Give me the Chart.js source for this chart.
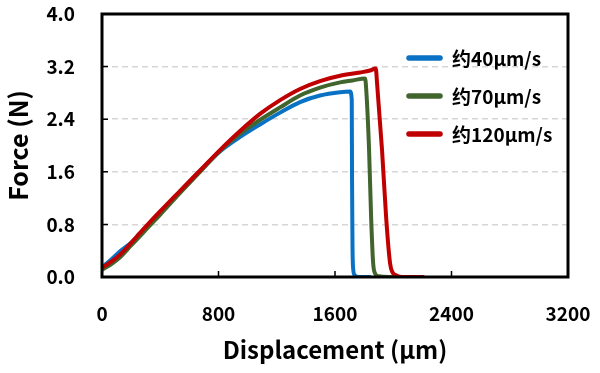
<!DOCTYPE html>
<html>
<head>
<meta charset="utf-8">
<script src="https://cdn.jsdelivr.net/npm/chart.js@4.4.1/dist/chart.umd.min.js"></script>
<style>
html,body{margin:0;padding:0;background:#fff;}
#wrap{width:600px;height:373px;position:relative;}
</style>
</head>
<body>
<div id="wrap"><canvas id="c" width="600" height="373"></canvas></div>
<script>
// ---- data ----
const seriesLabels = ['约40µm/s', '约70µm/s', '约120µm/s'];
const seriesColors = ['#0A72C4', '#41652C', '#C00000'];

const blueX = [0, 60, 124, 200, 261, 302, 400, 536, 673, 810, 948, 1085, 1223, 1360, 1497, 1635, 1703, 1715, 1717, 1720, 1725, 1735, 1760, 1840];
const blueY = [0.15, 0.26, 0.39, 0.52, 0.64, 0.74, 0.97, 1.29, 1.61, 1.91, 2.13, 2.32, 2.50, 2.66, 2.76, 2.81, 2.82, 2.70, 1.50, 0.50, 0.12, 0.03, 0.0, 0.0];

const greenX = [0, 60, 124, 200, 261, 302, 400, 536, 673, 810, 948, 1085, 1223, 1360, 1497, 1635, 1720, 1806, 1813, 1834, 1848, 1862, 1876, 1900, 1990];
const greenY = [0.11, 0.19, 0.30, 0.48, 0.62, 0.72, 0.95, 1.28, 1.60, 1.92, 2.18, 2.39, 2.58, 2.76, 2.88, 2.96, 2.99, 3.02, 2.90, 1.93, 0.91, 0.21, 0.05, 0.01, 0.0];

const redX = [0, 60, 124, 200, 261, 302, 400, 536, 673, 810, 948, 1085, 1223, 1360, 1497, 1635, 1772, 1840, 1880, 1889, 1923, 1951, 1978, 1995, 2026, 2060, 2205];
const redY = [0.14, 0.23, 0.34, 0.52, 0.67, 0.77, 1.00, 1.31, 1.62, 1.93, 2.22, 2.48, 2.69, 2.86, 2.98, 3.06, 3.11, 3.14, 3.17, 2.94, 1.93, 0.91, 0.21, 0.07, 0.02, 0.0, 0.0];

const xTicks = [0, 800, 1600, 2400, 3200];
const yTicks = [0.0, 0.8, 1.6, 2.4, 3.2, 4.0];
const xTitle = 'Displacement (µm)';
const yTitle = 'Force (N)';

// ---- build ----
const FONT = '"Noto Sans CJK SC", "Open Sans", sans-serif';
function pts(xs, ys){ return xs.map((x,i)=>({x:x, y:ys[i]})); }
const seriesData = [pts(blueX, blueY), pts(greenX, greenY), pts(redX, redY)];

const datasets = seriesData.map((d,i)=>({
  label: seriesLabels[i],
  data: d,
  borderColor: seriesColors[i],
  backgroundColor: seriesColors[i],
  borderWidth: 4,
  pointRadius: 0,
  showLine: true,
  fill: false,
  cubicInterpolationMode: 'monotone',
  borderJoinStyle: 'round',
  borderCapStyle: 'round',
  order: 3 - i
}));

const framePlugin = {
  id: 'frame',
  afterDraw(chart){
    const {ctx, chartArea:a, scales} = chart;
    ctx.save();
    ctx.strokeStyle = '#000';
    ctx.lineWidth = 1.5;
    ctx.beginPath();
    xTicks.forEach(v=>{
      if (v === xTicks[0] || v === xTicks[xTicks.length-1]) return;
      const px = scales.x.getPixelForValue(v);
      ctx.moveTo(px, a.bottom); ctx.lineTo(px, a.bottom - 6);
    });
    yTicks.forEach(v=>{
      if (v === yTicks[0] || v === yTicks[yTicks.length-1]) return;
      const py = scales.y.getPixelForValue(v);
      ctx.moveTo(a.left, py); ctx.lineTo(a.left + 6, py);
    });
    ctx.stroke();
    ctx.lineWidth = 3;
    ctx.strokeRect(a.left, a.top, a.right - a.left, a.bottom - a.top);
    // legend
    const lx = 406, lw = 37, ty = [58, 96, 134];
    ctx.lineCap = 'round';
    ctx.font = 'bold 19px ' + FONT;
    ctx.textBaseline = 'middle';
    ctx.textAlign = 'left';
    chart.data.datasets.forEach((ds,i)=>{
      ctx.strokeStyle = ds.borderColor;
      ctx.lineWidth = 5.5;
      ctx.beginPath();
      ctx.moveTo(lx + 3, ty[i]); ctx.lineTo(lx + lw - 3, ty[i]);
      ctx.stroke();
      ctx.fillStyle = '#000';
      ctx.fillText(ds.label, 452, ty[i] + 1);
    });
    ctx.restore();
  }
};

function zeroPad(s){ s.paddingTop = 0; s.paddingBottom = 0; s.paddingLeft = 0; s.paddingRight = 0; }

new Chart(document.getElementById('c'), {
  type: 'scatter',
  data: { datasets },
  options: {
    responsive: false,
    animation: false,
    devicePixelRatio: 1,
    layout: { padding: { left: 0, right: 32, top: 14, bottom: 0 } },
    plugins: { legend: { display: false }, tooltip: { enabled: false } },
    scales: {
      x: {
        type: 'linear', min: 0, max: 3200,
        afterBuildTicks: s => { s.ticks = xTicks.map(v=>({value:v})); },
        afterFit: s => { s.height = 96; zeroPad(s); },
        grid: { display: false, drawTicks: false },
        border: { display: false },
        ticks: { color: '#000', padding: 25, font: { family: FONT, size: 19, weight: 'bold' }, maxRotation: 0, callback: v => String(v) },
        title: { display: true, text: xTitle, color: '#000', font: { family: FONT, size: 24, weight: 'bold' }, padding: { top: 0, bottom: 9 } }
      },
      y: {
        type: 'linear', min: 0, max: 4,
        afterBuildTicks: s => { s.ticks = yTicks.map(v=>({value:v})); },
        afterFit: s => { s.width = 102; zeroPad(s); },
        grid: {
          drawTicks: false,
          lineWidth: 1.5,
          color: c => (c.tick && c.tick.value > 0.01 && c.tick.value < 3.99) ? '#D6D6D6' : 'rgba(0,0,0,0)'
        },
        border: { display: false, dash: [6, 4] },
        ticks: { color: '#000', padding: 27, font: { family: FONT, size: 19, weight: 'bold' }, callback: v => Number(v).toFixed(1) },
        title: { display: true, text: yTitle, color: '#000', font: { family: FONT, size: 25, weight: 'bold' }, padding: { top: 3, bottom: 0 } }
      }
    }
  },
  plugins: [framePlugin]
});
</script>
</body>
</html>
